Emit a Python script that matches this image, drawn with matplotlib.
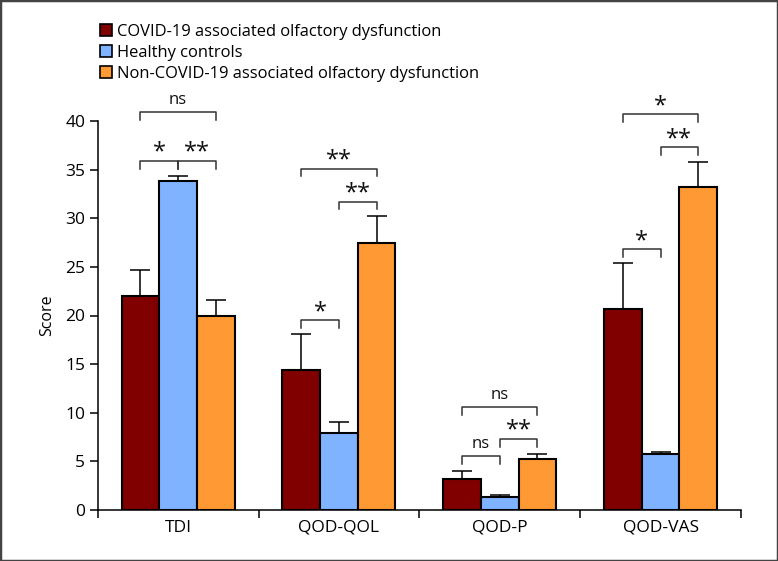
import numpy as np
import matplotlib
matplotlib.use('Agg')
import matplotlib.pyplot as plt
from matplotlib.patches import Patch, Rectangle

plt.rcParams['font.family'] = ['Open Sans', 'DejaVu Sans']

# data
categories = ['TDI', 'QOD-QOL', 'QOD-P', 'QOD-VAS']
groups = ['COVID-19 associated olfactory dysfunction',
          'Healthy controls',
          'Non-COVID-19 associated olfactory dysfunction']
covid_mean = [22.0, 14.4, 3.2, 20.7]
covid_err = [2.7, 3.7, 0.8, 4.7]
healthy_mean = [33.8, 7.9, 1.3, 5.8]
healthy_err = [0.5, 1.2, 0.25, 0.2]
noncovid_mean = [20.0, 27.5, 5.2, 33.2]
noncovid_err = [1.6, 2.7, 0.6, 2.6]
colors = ['#800000', '#80b3ff', '#ff9933']

# significance brackets: (category index, bar a, bar b, height, label)
brackets = [
    (0, 0, 2, 40.9, 'ns'), (0, 0, 1, 35.9, '*'), (0, 1, 2, 35.9, '**'),
    (1, 0, 2, 35.1, '**'), (1, 1, 2, 31.7, '**'), (1, 0, 1, 19.5, '*'),
    (2, 0, 2, 10.6, 'ns'), (2, 0, 1, 5.55, 'ns'), (2, 1, 2, 7.3, '**'),
    (3, 0, 2, 40.7, '*'), (3, 1, 2, 37.3, '**'), (3, 0, 1, 26.8, '*'),
]

means = [covid_mean, healthy_mean, noncovid_mean]
errs = [covid_err, healthy_err, noncovid_err]

fig = plt.figure(figsize=(7.78, 5.61), dpi=100)
ax = fig.add_axes([97.7 / 778, 1 - 510 / 561, (741 - 97.7) / 778, (510 - 121) / 561])

x = np.arange(len(categories))
w = 0.234
for i in range(3):
    xs = x + (i - 1) * w
    ax.bar(xs, means[i], width=w, color=colors[i], edgecolor='black',
           linewidth=1.5, label=groups[i], zorder=2)
    ax.errorbar(xs, means[i], yerr=[np.zeros(4), errs[i]], fmt='none',
                ecolor='black', elinewidth=1.1, capsize=7, capthick=1.1, zorder=1)

ax.set_xlim(-0.5, 3.5)
ax.set_ylim(0, 40)
ax.set_yticks(range(0, 41, 5))
ax.set_xticks([-0.5, 0.5, 1.5, 2.5, 3.5])
ax.set_xticklabels([])
ax.set_xticks(x, minor=True)
ax.set_xticklabels(categories, minor=True)
ax.tick_params(axis='x', which='minor', length=0, pad=7, labelsize=12.5)
ax.tick_params(axis='x', which='major', length=5.5, width=1.1)
ax.tick_params(axis='y', length=6, width=1.1, labelsize=12.5, pad=3)
for s in ['top', 'right']:
    ax.spines[s].set_visible(False)
for s in ['left', 'bottom']:
    ax.spines[s].set_linewidth(1.1)
ax.set_ylabel('Score', fontsize=11.5, labelpad=7)

tick = 0.8
for c, a, b, h, lab in brackets:
    x0 = c + (a - 1) * w
    x1 = c + (b - 1) * w
    ax.plot([x0, x0, x1, x1], [h - tick, h, h, h - tick], color='#333333',
            lw=1.1, clip_on=False)
    if lab == 'ns':
        ax.text((x0 + x1) / 2, h + 0.4, lab, ha='center', va='bottom',
                fontsize=12, color='#111111')
    else:
        ax.text((x0 + x1) / 2, h - 0.4, lab, ha='center', va='bottom',
                fontsize=17, color='#111111')

handles = [Patch(facecolor=colors[i], edgecolor='black', linewidth=1.2) for i in range(3)]
fig.legend(handles, groups, loc='upper left', bbox_to_anchor=(93 / 778, 1 - 17 / 561),
           frameon=False, fontsize=11.9, handlelength=0.75, handleheight=0.75,
           handletextpad=0.3, labelspacing=0.3, borderaxespad=0)

fig.patches.append(Rectangle((0, 0), 1, 1, transform=fig.transFigure, fill=False,
                             edgecolor='#444444', linewidth=2.5))

fig.savefig('out.png', dpi=100)
